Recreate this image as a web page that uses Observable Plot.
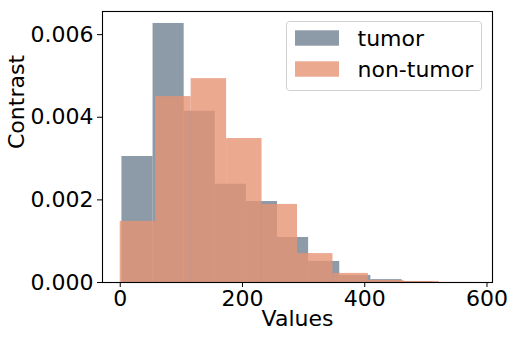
<!DOCTYPE html>
<html>
<head>
<meta charset="utf-8">
<script src="https://cdn.jsdelivr.net/npm/d3@7"></script>
<script src="https://cdn.jsdelivr.net/npm/@observablehq/plot@0.6"></script>
<style>
  html, body { margin: 0; padding: 0; background: white; }
</style>
</head>
<body>
<div id="chart"></div>
<script>
// ---- data (density histogram) ----
const seriesNames = ["tumor", "non-tumor"];
const xTicks = [0, 200, 400, 600];
const yTicks = [0, 0.002, 0.004, 0.006];
const tumorEdges = [2.8, 53.7, 104.6, 155.5, 206.4, 257.3, 308.2, 359.1, 410.0, 460.9, 511.8];
const tumorDensity = [0.00305, 0.00627, 0.004145, 0.00238, 0.00196, 0.00109, 0.00051, 0.00017, 0.00007, 0.000025];
const nonTumorEdges = [0, 58, 116, 174, 232, 290, 348, 406, 464, 522, 580];
const nonTumorDensity = [0.00148, 0.0045, 0.004935, 0.003485, 0.00189, 0.0007, 0.00022, 0.00005, 0.000025, 0.000002];
const xLabel = "Values";
const yLabel = "Contrast";

const colors = ["#718191", "#e69474"];

function toBins(edges, dens) {
  return dens.map((y, i) => ({x1: edges[i], x2: edges[i + 1], y}));
}
const tumorBins = toBins(tumorEdges, tumorDensity);
const nonTumorBins = toBins(nonTumorEdges, nonTumorDensity);

const font = "DejaVu Sans";

const chart = Plot.plot({
  width: 514,
  height: 340,
  marginLeft: 102,
  marginRight: 22,
  marginTop: 11,
  marginBottom: 58,
  style: {fontFamily: font, fontSize: "22px", color: "black", background: "white"},
  x: {domain: [-29, 609]},
  y: {domain: [0, 0.00656]},
  marks: [
    Plot.rectY(tumorBins, {x1: "x1", x2: "x2", y: "y", fill: colors[0], fillOpacity: 0.8, insetLeft: 0, insetRight: 0}),
    Plot.rectY(nonTumorBins, {x1: "x1", x2: "x2", y: "y", fill: colors[1], fillOpacity: 0.8, insetLeft: 0, insetRight: 0}),
    Plot.axisX(xTicks, {tickSize: 5, tickPadding: 3, fontSize: 22, label: null, stroke: "black", fill: "black"}),
    Plot.axisY(yTicks, {tickSize: 5, tickPadding: 4, fontSize: 22, label: null, tickFormat: d3.format(".3f"), stroke: "black", fill: "black"}),
    Plot.text([xLabel], {text: d => d, frameAnchor: "bottom", dy: 43, fontSize: 22, fill: "black"}),
    Plot.text([yLabel], {text: d => d, frameAnchor: "left", dx: -86, dy: 2, rotate: -90, fontSize: 22, fill: "black"}),
    Plot.frame({stroke: "black", strokeWidth: 1.1})
  ]
});

document.getElementById("chart").appendChild(chart);

// legend (inside the axes, upper right)
const svg = d3.select(chart);
const lg = svg.append("g")
  .attr("text-anchor", "start")
  .style("font-family", font)
  .style("font-size", "22px");
lg.append("rect")
  .attr("x", 286.5).attr("y", 21.5).attr("width", 195).attr("height", 69)
  .attr("rx", 3).attr("fill", "white").attr("fill-opacity", 0.8)
  .attr("stroke", "#d0d0d0").attr("stroke-width", 1);
seriesNames.forEach((name, i) => {
  const y0 = 30.3 + i * 31;
  lg.append("rect")
    .attr("x", 295).attr("y", y0).attr("width", 44).attr("height", 15.4)
    .attr("fill", colors[i]).attr("fill-opacity", 0.8);
  lg.append("text")
    .attr("x", 357.5).attr("y", y0 + 15.2)
    .attr("text-anchor", "start")
    .attr("fill", "black")
    .text(name);
});
</script>
</body>
</html>
